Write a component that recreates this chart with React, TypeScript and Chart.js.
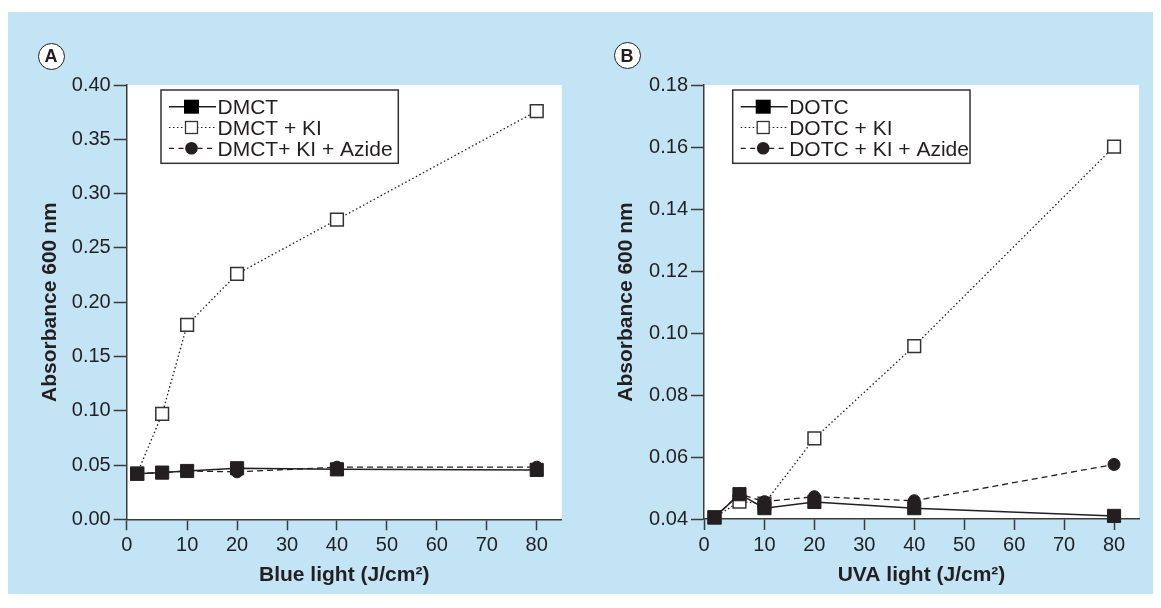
import React, { useEffect, useRef } from 'react';
import { Chart, registerables } from 'chart.js';

Chart.register(...registerables);

// ---------- data ----------
const doseX = [0, 5, 10, 20, 40, 80];
const xTickValues = [0, 10, 20, 30, 40, 50, 60, 70, 80];
const xTickLabels = ['0', '10', '20', '30', '40', '50', '60', '70', '80'];

const labelsA = ['DMCT', 'DMCT + KI', 'DMCT+ KI + Azide'];
const dmct = [0.042, 0.043, 0.0445, 0.047, 0.046, 0.0455];
const dmctKI = [0.042, 0.097, 0.179, 0.226, 0.276, 0.376];
const dmctKIAzide = [0.042, 0.043, 0.0445, 0.0437, 0.048, 0.048];

const labelsB = ['DOTC', 'DOTC + KI', 'DOTC + KI + Azide'];
const dotc = [0.0405, 0.048, 0.0435, 0.0455, 0.0435, 0.041];
const dotcKI = [0.0405, 0.0456, 0.045, 0.066, 0.0958, 0.1601];
const dotcKIAzide = [0.0405, 0.0481, 0.0456, 0.0472, 0.0459, 0.0576];

const yRangeA = [0, 0.4, 0.05];
const yRangeB = [0.04, 0.18, 0.02];

const xTitleA = 'Blue light (J/cm²)';
const xTitleB = 'UVA light (J/cm²)';
const yTitle = 'Absorbance 600 nm';

// ---------- style ----------
const FONT = '"Liberation Sans", Arial, Helvetica, sans-serif';
const INK = '#231f20';
const AXIS = '#3b3b3b';
const BG = '#c2e4f5';
const X_MIN = -2.1;
const X_MAX = 85;

type Spec = {
  labels: string[];
  series: number[][];
  yRange: number[];
  xTitle: string;
  yAxisWidth: number;
  rightPad: number;
  xAxisHeight: number;
  legendDx: number;
};

const specA: Spec = {
  labels: labelsA,
  series: [dmct, dmctKI, dmctKIAzide],
  yRange: yRangeA,
  xTitle: xTitleA,
  yAxisWidth: 118.7,
  rightPad: 22.3,
  xAxisHeight: 78.7,
  legendDx: 34.3,
};

const specB: Spec = {
  labels: labelsB,
  series: [dotc, dotcKI, dotcKIAzide],
  yRange: yRangeB,
  xTitle: xTitleB,
  yAxisWidth: 120,
  rightPad: 14,
  xAxisHeight: 79,
  legendDx: 28.7,
};

const chartAreaBg = {
  id: 'chartAreaBg',
  beforeDraw(chart: any) {
    const { ctx, chartArea } = chart;
    ctx.save();
    ctx.fillStyle = '#ffffff';
    ctx.fillRect(chartArea.left, chartArea.top, chartArea.right - chartArea.left, chartArea.bottom - chartArea.top);
    ctx.restore();
  },
};

function drawMarker(ctx: CanvasRenderingContext2D, kind: number, x: number, y: number) {
  ctx.save();
  ctx.setLineDash([]);
  if (kind === 0) {
    ctx.fillStyle = '#000';
    ctx.fillRect(x - 7.5, y - 7, 15, 14);
  } else if (kind === 1) {
    ctx.fillStyle = '#fff';
    ctx.strokeStyle = '#333';
    ctx.lineWidth = 1.3;
    ctx.fillRect(x - 6, y - 6, 12, 12);
    ctx.strokeRect(x - 6, y - 6, 12, 12);
  } else {
    ctx.fillStyle = INK;
    ctx.beginPath();
    ctx.arc(x, y, 6.3, 0, Math.PI * 2);
    ctx.fill();
  }
  ctx.restore();
}

const boxLegend = {
  id: 'boxLegend',
  afterDraw(chart: any, _args: any, opts: any) {
    const { ctx, chartArea } = chart;
    const x0 = chartArea.left + opts.dx;
    const y0 = chartArea.top + 5;
    const w = 237.3;
    const h = 73.3;
    ctx.save();
    ctx.fillStyle = '#fff';
    ctx.fillRect(x0, y0, w, h);
    ctx.strokeStyle = '#333';
    ctx.lineWidth = 1.5;
    ctx.strokeRect(x0, y0, w, h);
    const dashes = [[], [1.5, 2.5], [5, 4.5]];
    chart.data.datasets.forEach((ds: any, i: number) => {
      const ry = y0 + 16.7 + i * 20.8;
      ctx.strokeStyle = INK;
      ctx.lineWidth = i === 0 ? 1.5 : 1.2;
      ctx.setLineDash(dashes[i]);
      ctx.beginPath();
      ctx.moveTo(x0 + 8, ry);
      ctx.lineTo(x0 + 55, ry);
      ctx.stroke();
      drawMarker(ctx, i, x0 + 30.5, ry);
      ctx.fillStyle = INK;
      ctx.font = `21px ${FONT}`;
      ctx.textBaseline = 'alphabetic';
      ctx.textAlign = 'left';
      ctx.fillText(ds.label, x0 + 56.5, ry + 7.6);
    });
    ctx.restore();
  },
};

function buildConfig(spec: Spec): any {
  const pts = (arr: number[]) => doseX.map((x, i) => ({ x, y: arr[i] }));
  const datasets = [
    {
      label: spec.labels[0],
      data: pts(spec.series[0]),
      borderColor: INK,
      borderWidth: 1.5,
      pointStyle: 'rect',
      pointRadius: 9.3,
      pointBackgroundColor: INK,
      pointBorderColor: INK,
      pointBorderWidth: 1,
      order: 1,
      clip: false,
    },
    {
      label: spec.labels[1],
      data: pts(spec.series[1]),
      borderColor: INK,
      borderWidth: 1.3,
      borderDash: [1.5, 2.5],
      pointStyle: 'rect',
      pointRadius: 9,
      pointBackgroundColor: '#ffffff',
      pointBorderColor: '#333333',
      pointBorderWidth: 1.5,
      order: 2,
      clip: false,
    },
    {
      label: spec.labels[2],
      data: pts(spec.series[2]),
      borderColor: INK,
      borderWidth: 1.3,
      borderDash: [6, 4],
      pointStyle: 'circle',
      pointRadius: 6,
      pointBackgroundColor: INK,
      pointBorderColor: INK,
      pointBorderWidth: 1,
      order: 0,
      clip: false,
    },
  ];
  const [yMin, yMax, yStep] = spec.yRange;
  return {
    type: 'line',
    data: { datasets },
    plugins: [chartAreaBg, boxLegend],
    options: {
      responsive: false,
      animation: false,
      devicePixelRatio: 1,
      elements: { line: { tension: 0 } },
      layout: { padding: { left: 0, top: 73, right: spec.rightPad, bottom: 0 } },
      plugins: {
        legend: { display: false },
        tooltip: { enabled: false },
        boxLegend: { dx: spec.legendDx },
      },
      scales: {
        x: {
          type: 'linear',
          min: X_MIN,
          max: X_MAX,
          afterBuildTicks: (s: any) => {
            s.ticks = xTickValues.map((v, i) => ({ value: i === 0 ? X_MIN : v }));
          },
          afterFit: (s: any) => {
            s.height = spec.xAxisHeight;
          },
          ticks: {
            autoSkip: false,
            maxRotation: 0,
            padding: 3,
            color: INK,
            font: { family: FONT, size: 20 },
            callback: (_v: any, i: number) => xTickLabels[i],
          },
          grid: {
            drawOnChartArea: false,
            drawTicks: true,
            tickLength: 11,
            tickWidth: 1.5,
            tickColor: AXIS,
          },
          border: { display: true, color: AXIS, width: 1.5 },
          title: {
            display: true,
            text: spec.xTitle,
            color: INK,
            font: { family: FONT, size: 21, weight: 'bold' },
            padding: { top: 0, bottom: 10 },
          },
        },
        y: {
          type: 'linear',
          min: yMin,
          max: yMax,
          afterFit: (s: any) => {
            s.width = spec.yAxisWidth;
          },
          ticks: {
            stepSize: yStep,
            padding: 3,
            color: INK,
            font: { family: FONT, size: 20 },
            callback: (v: any) => Number(v).toFixed(2),
          },
          grid: {
            drawOnChartArea: false,
            drawTicks: true,
            tickLength: 13,
            tickWidth: 1.5,
            tickColor: AXIS,
          },
          border: { display: true, color: AXIS, width: 1.5 },
          title: {
            display: true,
            text: yTitle,
            color: INK,
            font: { family: FONT, size: 21, weight: 'bold' },
            padding: { top: 29.4, bottom: 0 },
          },
        },
      },
    },
  };
}

function ChartPanel({ spec, width, height }: { spec: Spec; width: number; height: number }) {
  const ref = useRef<HTMLCanvasElement>(null);
  useEffect(() => {
    const chart = new Chart(ref.current as HTMLCanvasElement, buildConfig(spec));
    return () => chart.destroy();
  }, [spec]);
  return <canvas ref={ref} width={width} height={height} style={{ display: 'block', width, height }} />;
}

function PanelLetter({ letter, left, top }: { letter: string; left: number; top: number }) {
  return (
    <div
      style={{
        position: 'absolute',
        left,
        top,
        width: 27,
        height: 27,
        boxSizing: 'border-box',
        border: `1.5px solid ${INK}`,
        borderRadius: '50%',
        background: '#fff',
        display: 'flex',
        alignItems: 'center',
        justifyContent: 'center',
        fontFamily: FONT,
        fontWeight: 'bold',
        fontSize: 18,
        color: INK,
        lineHeight: 1,
      }}
    >
      {letter}
    </div>
  );
}

export default function App() {
  return (
    <div
      style={{
        position: 'relative',
        top: 4,
        width: 1145,
        height: 586,
        background: BG,
        fontFamily: FONT,
      }}
    >
      <div style={{ position: 'absolute', left: 0, top: 0 }}>
        <ChartPanel spec={specA} width={576} height={586} />
      </div>
      <div style={{ position: 'absolute', left: 576, top: 0 }}>
        <ChartPanel spec={specB} width={569} height={586} />
      </div>
      <PanelLetter letter="A" left={29.5} top={30.5} />
      <PanelLetter letter="B" left={605.5} top={30} />
    </div>
  );
}
